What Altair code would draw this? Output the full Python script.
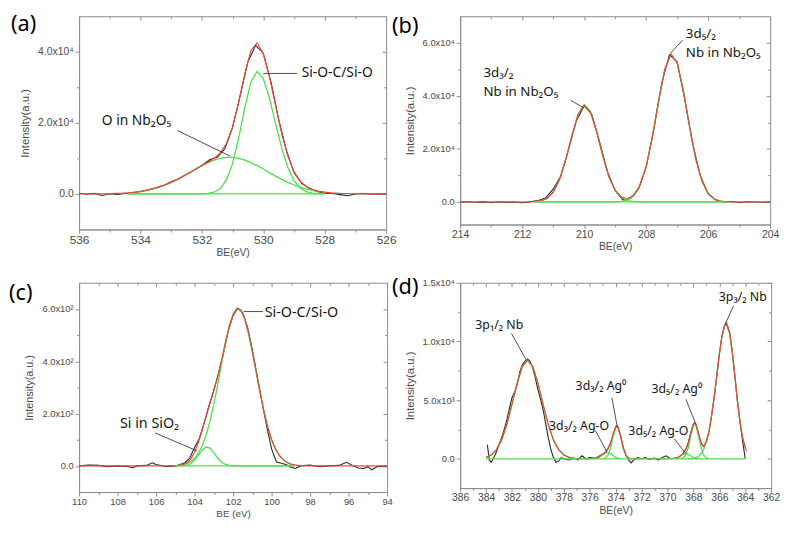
import altair as alt
import pandas as pd

# ---------------- Panel (a): O 1s ----------------
A_DATA_E = [536.0, 535.75, 535.5, 535.25, 535.0, 534.75, 534.5, 534.25, 534.0, 533.75, 533.5, 533.25, 533.0,
            532.75, 532.5, 532.25, 532.0, 531.75, 531.5, 531.25, 531.0, 530.75, 530.5, 530.25, 530.0, 529.75,
            529.5, 529.25, 529.0, 528.75, 528.5, 528.25, 528.0, 527.75, 527.5, 527.25, 527.0, 526.75, 526.5,
            526.25, 526.0]
A_DATA_I = [200, -100, 150, -450, 50, -150, 100, 400, 600, 1150, 1700, 2400, 3400, 4300, 5500, 6700, 8000,
            9600, 10300, 12700, 18700, 27800, 37200, 41800, 39600, 31500, 21000, 12300, 6000, 3000, 1500, 700,
            200, 100, -200, -500, 0, 100, -100, 50, 0]
A_FIT_E = [536.0, 535.5, 535.0, 534.6, 534.4, 534.2, 534.0, 533.8, 533.6, 533.4, 533.2, 533.0, 532.8, 532.6,
           532.4, 532.2, 532.0, 531.8, 531.6, 531.4, 531.2, 531.0, 530.8, 530.6, 530.4, 530.2, 530.0, 529.8,
           529.6, 529.4, 529.2, 529.0, 528.8, 528.6, 528.4, 528.2, 528.0, 527.8, 527.5, 527.0, 526.5, 526.0]
A_FIT_I = [5, 20, 80, 205, 315, 475, 700, 1000, 1395, 1895, 2515, 3245, 4090, 5015, 6000, 7005, 7980, 8945,
           10000, 11530, 14200, 18860, 25810, 33890, 40435, 42450, 39430, 32970, 24845, 16970, 10645, 6275,
           3585, 2065, 1235, 775, 495, 315, 160, 47, 10, 0]
A_COMP_E = [534.4, 534.2, 534.0, 533.8, 533.6, 533.4, 533.2, 533.0, 532.8, 532.6, 532.4, 532.2, 532.0, 531.8,
            531.6, 531.4, 531.2, 531.0, 530.8, 530.6, 530.4, 530.2, 530.0, 529.8, 529.6, 529.4, 529.2, 529.0,
            528.8, 528.6, 528.4, 528.2, 528.0]
A_SIOC_I = [0, 0, 0, 0, 0, 0, 0, 0, 0, 0, 1, 6, 30, 140, 490, 1520, 3930, 8590, 15800, 24380, 31630, 34500,
            32430, 26970, 19830, 12880, 7400, 3760, 1690, 670, 235, 75, 20]
A_ONB_I = [315, 475, 700, 1000, 1395, 1895, 2515, 3245, 4090, 5015, 6000, 7000, 7950, 8805, 9510, 10010, 10270,
           10270, 10010, 9510, 8805, 7950, 7000, 6000, 5015, 4090, 3245, 2515, 1895, 1395, 1000, 700, 475]
A_BG_E = [534.4, 528.0]
A_BG_I = [0, 0]
A_NOTE_T = ["Si-O-C/Si-O", "O in Nb₂O₅"]
A_NOTE_E = [528.75, 535.26]
A_NOTE_I = [33900, 20500]
A_LEAD_E1 = [530.0, 532.8]
A_LEAD_I1 = [33900, 17850]
A_LEAD_E2 = [528.9, 531.08]
A_LEAD_I2 = [33900, 10630]

# ---------------- Panel (b): Nb 3d ----------------
B_DATA_E = [214.0, 213.75, 213.5, 213.25, 213.0, 212.75, 212.5, 212.25, 212.0, 211.75, 211.5, 211.25, 211.0,
            210.75, 210.5, 210.25, 210.0, 209.75, 209.5, 209.25, 209.0, 208.75, 208.5, 208.25, 208.0, 207.75,
            207.5, 207.25, 207.0, 206.75, 206.5, 206.25, 206.0, 205.75, 205.5, 205.25, 205.0, 204.75, 204.5,
            204.25, 204.0]
B_DATA_I = [0, 100, -100, 50, -200, 100, -150, 0, -300, 100, 500, 1500, 4800, 9800, 20000, 30600, 36300, 33000,
            22500, 11500, 4200, 800, 1300, 4900, 13000, 27500, 44500, 55500, 52800, 38500, 22000, 9800, 3000,
            700, -100, 150, -200, 100, 0, -100, 0]
B_FIT_E = [214.0, 213.0, 212.0, 211.8, 211.6, 211.4, 211.2, 211.0, 210.8, 210.6, 210.4, 210.2, 210.0, 209.8,
           209.6, 209.4, 209.2, 209.0, 208.8, 208.6, 208.4, 208.2, 208.0, 207.8, 207.6, 207.4, 207.2, 207.0,
           206.8, 206.6, 206.4, 206.2, 206.0, 205.8, 205.6, 205.4, 205.2, 205.0, 204.0]
B_FIT_I = [0, 0, 0, 20, 109, 419, 1350, 3645, 8240, 15610, 24750, 32870, 36600, 34070, 26570, 17350, 9510, 4407,
           1890, 1325, 2529, 6153, 13296, 24410, 37950, 49970, 55690, 52540, 41960, 28350, 16240, 7860, 3220,
           1120, 330, 80, 15, 0, 0]
B_COMP_E = [211.6, 211.4, 211.2, 211.0, 210.8, 210.6, 210.4, 210.2, 210.0, 209.8, 209.6, 209.4, 209.2, 209.0,
            208.8, 208.6, 208.4, 208.2, 208.0, 207.8, 207.6, 207.4, 207.2, 207.0, 206.8, 206.6, 206.4, 206.2,
            206.0, 205.8, 205.6, 205.4]
B_D32_I = [109, 419, 1350, 3645, 8240, 15610, 24750, 32870, 36600, 34070, 26570, 17350, 9500, 4355, 1670, 538,
           144, 33, 6, 0, 0, 0, 0, 0, 0, 0, 0, 0, 0, 0, 0, 0]
B_D52_I = [0, 0, 0, 0, 0, 0, 0, 0, 0, 0, 0, 0, 10, 52, 220, 787, 2385, 6120, 13290, 24410, 37950, 49970, 55690,
           52540, 41960, 28350, 16240, 7860, 3220, 1120, 330, 80]
B_BG_E = [211.6, 205.4]
B_BG_I = [0, 0]
B_NOTE_T = ["3d₅/₂", "Nb in Nb₂O₅", "3d₃/₂", "Nb in Nb₂O₅"]
B_NOTE_E = [206.72, 206.72, 213.25, 213.25]
B_NOTE_I = [63300, 56300, 48400, 41600]
B_LEAD_E1 = [207.22, 210.43]
B_LEAD_I1 = [56000, 38270]
B_LEAD_E2 = [206.82, 210.0]
B_LEAD_I2 = [61000, 35400]

# ---------------- Panel (c): Si 2p ----------------
C_DATA_E = [110.0, 109.5, 109.0, 108.5, 108.0, 107.5, 107.2, 107.0, 106.5, 106.2, 106.0, 105.5, 105.0, 104.75,
            104.5, 104.25, 104.0, 103.75, 103.5, 103.25, 103.0, 102.75, 102.5, 102.25, 102.0, 101.75, 101.5,
            101.25, 101.0, 100.75, 100.5, 100.25, 100.0, 99.75, 99.5, 99.25, 99.0, 98.75, 98.5, 98.0, 97.5,
            97.0, 96.5, 96.1, 95.8, 95.5, 95.2, 95.0, 94.8, 94.5, 94.0]
C_DATA_I = [0, 3, 2, -3, 0, -2, -7, 0, 2, 12, 5, -2, 0, 5, 12, 30, 70, 105, 165, 230, 290, 355, 430, 515, 575,
            603, 585, 530, 445, 345, 245, 150, 65, 15, 10, 5, -5, -10, 0, 3, -3, 0, 2, 14, 2, -8, -10, -3, -15,
            -2, 0]
C_FIT_E = [110.0, 108.0, 106.0, 105.4, 105.2, 105.0, 104.8, 104.6, 104.4, 104.2, 104.0, 103.8, 103.6, 103.4,
           103.2, 103.0, 102.8, 102.6, 102.4, 102.2, 102.0, 101.8, 101.6, 101.4, 101.2, 101.0, 100.8, 100.6,
           100.4, 100.2, 100.0, 99.8, 99.6, 99.4, 99.2, 99.0, 98.8, 98.5, 98.0, 96.0, 94.0]
C_FIT_I = [0, 0, 0, 0, 1, 1, 2, 6, 12, 26, 52, 90, 138, 190, 239, 287, 341, 404, 472, 534, 579, 602, 596, 563,
           508, 436, 358, 280, 209, 149, 101, 65, 40, 24, 13, 7, 4, 1, 0, 0, 0]
C_COMP_E = [105.0, 104.8, 104.6, 104.4, 104.2, 104.0, 103.8, 103.6, 103.4, 103.2, 103.0, 102.8, 102.6, 102.4,
            102.2, 102.0, 101.8, 101.6, 101.4, 101.2, 101.0, 100.8, 100.6, 100.4, 100.2, 100.0, 99.8, 99.6,
            99.4, 99.2, 99.0, 98.8]
C_MAIN_I = [1, 2, 5, 9, 17, 30, 49, 78, 118, 171, 236, 310, 389, 466, 532, 579, 602, 596, 563, 508, 436, 358,
            280, 209, 149, 101, 65, 40, 24, 13, 7, 4]
C_SIO2_I = [0, 0, 1, 3, 9, 22, 40, 60, 72, 68, 51, 30, 15, 6, 2, 0, 0, 0, 0, 0, 0, 0, 0, 0, 0, 0, 0, 0, 0, 0,
            0, 0]
C_BG_E = [105.0, 98.8]
C_BG_I = [0, 0]
C_NOTE_T = ["Si-O-C/Si-O", "Si in SiO₂"]
C_NOTE_E = [100.36, 107.88]
C_NOTE_I = [585, 160]
C_LEAD_E1 = [101.45, 106.05]
C_LEAD_I1 = [590, 126]
C_LEAD_E2 = [100.45, 103.86]
C_LEAD_I2 = [590, 57]

# ---------------- Panel (d): Nb 3p / Ag 3d ----------------
D_DATA_E = [383.9, 383.75, 383.6, 383.4, 383.2, 383.0, 382.8, 382.6, 382.4, 382.2, 382.0, 381.8, 381.6, 381.4,
            381.2, 381.0, 380.8, 380.6, 380.4, 380.2, 380.0, 379.8, 379.6, 379.4, 379.2, 379.0, 378.8, 378.6,
            378.4, 378.2, 378.0, 377.6, 377.2, 376.9, 376.6, 376.3, 376.0, 375.6, 375.3, 375.0, 374.8, 374.6,
            374.4, 374.2, 374.0, 373.9, 373.8, 373.6, 373.4, 373.2, 373.0, 372.8, 372.6, 372.3, 372.0, 371.7,
            371.4, 371.0, 370.7, 370.4, 370.1, 369.8, 369.5, 369.2, 369.0, 368.8, 368.6, 368.4, 368.2, 368.0,
            367.9, 367.8, 367.6, 367.4, 367.2, 367.0, 366.8, 366.6, 366.4, 366.2, 366.0, 365.8, 365.6, 365.45,
            365.2, 365.0, 364.8, 364.6, 364.4, 364.2, 364.0]
D_DATA_I = [1200, -100, -300, 100, 600, 1200, 1800, 2500, 3300, 4300, 5200, 5700, 6300, 7400, 8000, 8300, 8500,
            8300, 7700, 6900, 5900, 5100, 4200, 3000, 1800, 800, 100, -300, -200, 100, 0, -100, 50, -100, 250, 0,
            100, 50, 200, 400, 550, 850, 1300, 2000, 2700, 2800, 2650, 1900, 900, 300, -100, -350, -100, 100, 0,
            100, -50, 50, -100, 100, 250, 0, 50, 100, 250, 450, 750, 1350, 2200, 2950, 3050, 2900, 2100, 1300,
            1050, 1450, 2300, 3600, 5200, 7000, 8900, 10400, 11300, 11500, 10700, 9100, 7100, 4900, 3100, 1500, 0]
D_FIT_E = [384.0, 383.6, 383.2, 382.8, 382.4, 382.0, 381.6, 381.2, 380.8, 380.4, 380.0, 379.6, 379.2, 378.8,
           378.4, 378.0, 377.6, 377.2, 376.8, 376.0, 375.6, 375.4, 375.2, 375.0, 374.8, 374.6, 374.4, 374.2,
           374.0, 373.9, 373.8, 373.6, 373.4, 373.2, 373.0, 372.8, 372.4, 369.8, 369.4, 369.2, 369.0, 368.8,
           368.6, 368.4, 368.2, 368.0, 367.9, 367.8, 367.6, 367.4, 367.2, 367.0, 366.8, 366.6, 366.4, 366.2,
           366.0, 365.8, 365.6, 365.45, 365.2, 365.0, 364.8, 364.6, 364.4, 364.2, 364.0, 363.9]
D_FIT_I = [122, 329, 778, 1609, 2915, 4633, 6448, 7862, 8400, 7862, 6448, 4633, 2915, 1609, 778, 329, 122, 40,
           11, 1, 24, 78, 194, 371, 576, 835, 1315, 2092, 2754, 2828, 2672, 1831, 875, 290, 67, 11, 0, 1, 33,
           104, 246, 454, 763, 1322, 2199, 2956, 3067, 2936, 2150, 1330, 1074, 1443, 2308, 3580, 5201, 7036,
           8865, 10403, 11370, 11600, 10773, 9130, 7036, 4933, 3146, 1826, 960, 675]
D_P12_E = [384.0, 383.6, 383.2, 382.8, 382.4, 382.0, 381.6, 381.2, 380.8, 380.4, 380.0, 379.6, 379.2, 378.8,
           378.4, 378.0, 377.6, 377.2, 376.8]
D_P12_I = [122, 329, 778, 1609, 2915, 4633, 6448, 7862, 8400, 7862, 6448, 4633, 2915, 1609, 778, 329, 122, 40, 11]
D_AGO32_E = [375.6, 375.4, 375.2, 375.0, 374.8, 374.6, 374.4, 374.2, 374.0, 373.8, 373.6]
D_AGO32_I = [24, 78, 193, 360, 509, 545, 443, 273, 127, 45, 12]
D_AG32_E = [375.0, 374.8, 374.6, 374.4, 374.2, 374.0, 373.9, 373.8, 373.6, 373.4, 373.2, 373.0, 372.8]
D_AG32_I = [11, 67, 290, 872, 1819, 2627, 2750, 2627, 1819, 872, 290, 67, 11]
D_AGO52_E = [369.4, 369.2, 369.0, 368.8, 368.6, 368.4, 368.2, 368.0, 367.8, 367.6]
D_AGO52_I = [33, 103, 234, 382, 450, 382, 234, 103, 33, 8]
D_AG52_E = [369.0, 368.8, 368.6, 368.4, 368.2, 368.0, 367.9, 367.8, 367.6, 367.4, 367.2, 367.0, 366.8]
D_AG52_I = [12, 72, 311, 935, 1951, 2817, 2950, 2817, 1951, 935, 311, 72, 12]
D_P32_E = [368.4, 368.0, 367.6, 367.2, 366.8, 366.4, 366.0, 365.8, 365.6, 365.45, 365.2, 365.0, 364.8, 364.6,
           364.4, 364.2, 364.0]
D_P32_I = [5, 36, 191, 763, 2296, 5201, 8865, 10403, 11370, 11600, 10773, 9130, 7036, 4933, 3146, 1826, 960]
D_BG_E = [384.0, 364.0]
D_BG_I = [0, 0]
D_NOTE_T = ["3p₁/₂ Nb", "3p₃/₂ Nb", "3d₃/₂ Ag⁰", "3d₃/₂ Ag-O", "3d₅/₂ Ag⁰", "3d₅/₂ Ag-O"]
D_NOTE_E = [384.83, 366.04, 377.09, 379.14, 371.24, 373.02]
D_NOTE_I = [11370, 13750, 6190, 2830, 5900, 2350]
D_LEAD_E1 = [382.04, 364.9, 374.29, 375.56, 368.58, 369.47]
D_LEAD_I1 = [10670, 13050, 5210, 2400, 5070, 1700]
D_LEAD_E2 = [380.9, 365.53, 373.86, 374.67, 367.81, 368.58]
D_LEAD_I2 = [8430, 11500, 2630, 590, 2970, 450]

# ---------------- styling ----------------
FRAME = "#8c8c8c"
TXT = "#4a4a4a"
RED = "#f0443f"
GREEN = "#4ce04c"
BLACK = "#262626"
LFONT = "Liberation Sans"
NFONT = "Noto Sans"


def label_expr(vals, labels):
    parts = [f"datum.value == {v} ? '{t}'" for v, t in zip(vals, labels)]
    return " : ".join(parts) + " : ''"


def panel(letter, letter_xy, xdom, ydom, w, h, xmaj, xmin, ymaj, ymin, ylab, xtitle,
          data, fit, comps, bg, notes, leads, xfs, yfs, tfs, nfs):
    xs = alt.Scale(domain=xdom, reverse=True, nice=False, zero=False)
    ys = alt.Scale(domain=ydom, nice=False, zero=False)

    df_data = pd.DataFrame({"E": data[0], "I": data[1]})
    df_fit = pd.DataFrame({"E": fit[0], "I": fit[1]})
    rows = []
    for name, (ce, ci) in comps.items():
        rows += [{"E": e, "I": i, "comp": name} for e, i in zip(ce, ci)]
    df_comp = pd.DataFrame(rows)
    df_bg = pd.DataFrame({"E": bg[0], "I": bg[1]})
    df_note = pd.DataFrame({"t": notes[0], "E": notes[1], "I": notes[2]})
    df_lead = pd.DataFrame({"E1": leads[0], "I1": leads[1], "E2": leads[2], "I2": leads[3]})

    common = dict(tickColor=FRAME, grid=False)
    main_x = alt.Axis(orient="bottom", values=xmaj, format="d", title=xtitle, tickSize=4, labelPadding=1,
                      labelFontSize=xfs, titleFontSize=tfs, titlePadding=2, domainColor=FRAME,
                      labelColor=TXT, titleColor=TXT, labelFont=LFONT, titleFont=LFONT,
                      titleFontWeight="normal", labelFlush=False, **common)
    main_y = alt.Axis(orient="left", values=ymaj, labelExpr=label_expr(ymaj, ylab), title="Intensity(a.u.)",
                      tickSize=4, labelPadding=2, labelFontSize=yfs, titleFontSize=tfs + 1, titlePadding=7,
                      domainColor=FRAME, labelColor=TXT, titleColor=TXT, labelFont=LFONT, titleFont=LFONT,
                      titleFontWeight="normal", **common)
    minor_x = alt.Axis(orient="bottom", values=xmin, labels=False, domain=False, tickSize=2.5, title=None,
                       **common)
    minor_y = alt.Axis(orient="left", values=ymin, labels=False, domain=False, tickSize=2.5, title=None,
                       **common)
    top_x = alt.Axis(orient="top", values=xmaj, labels=False, domain=False, tickSize=4, offset=-4, title=None,
                     **common)
    right_y = alt.Axis(orient="right", values=ymaj, labels=False, domain=False, tickSize=4, offset=-4,
                       title=None, **common)
    top_xm = alt.Axis(orient="top", values=xmin, labels=False, domain=False, tickSize=2.5, offset=-2.5,
                      title=None, **common)
    right_ym = alt.Axis(orient="right", values=ymin, labels=False, domain=False, tickSize=2.5, offset=-2.5,
                        title=None, **common)

    def xy(ax, ay):
        return dict(x=alt.X("E:Q", scale=xs, axis=ax), y=alt.Y("I:Q", scale=ys, axis=ay))

    l_data = alt.Chart(df_data).mark_line(color=BLACK, strokeWidth=1.1, clip=True).encode(**xy(main_x, main_y))
    l_comp = alt.Chart(df_comp).mark_line(color=GREEN, strokeWidth=1.3, clip=True).encode(
        detail="comp:N", **xy(None, None))
    l_fit = alt.Chart(df_fit).mark_line(color=RED, strokeWidth=1.2, clip=True).encode(**xy(None, None))
    l_bg = alt.Chart(df_bg).mark_line(color=GREEN, strokeWidth=1.3, clip=True).encode(**xy(None, None))
    l_lead = alt.Chart(df_lead).mark_rule(color="#3a3a3a", strokeWidth=0.9).encode(
        x=alt.X("E1:Q", scale=xs, axis=None), y=alt.Y("I1:Q", scale=ys, axis=None), x2="E2:Q", y2="I2:Q")
    l_note = alt.Chart(df_note).mark_text(align="left", baseline="middle", font=NFONT, fontSize=nfs,
                                          color="#151515").encode(
        x=alt.X("E:Q", scale=xs, axis=None), y=alt.Y("I:Q", scale=ys, axis=None), text="t:N")
    l_minor = alt.Chart(df_fit).mark_line(strokeOpacity=0).encode(**xy(minor_x, minor_y))
    l_top = alt.Chart(df_fit).mark_line(strokeOpacity=0).encode(**xy(top_x, right_y))
    l_topm = alt.Chart(df_fit).mark_line(strokeOpacity=0).encode(**xy(top_xm, right_ym))
    l_letter = alt.Chart(pd.DataFrame({"t": [letter]})).mark_text(
        align="left", baseline="top", font=NFONT, fontSize=22, color="#000000").encode(
        x=alt.value(letter_xy[0]), y=alt.value(letter_xy[1]), text="t:N")

    return alt.layer(l_data, l_comp, l_fit, l_bg, l_lead, l_note, l_minor, l_top, l_topm, l_letter).resolve_axis(
        x="independent", y="independent").properties(width=w, height=h)


pa = panel("(a)", (-69, -2), [526, 536], [-10000, 50000], 311, 216,
           [536, 534, 532, 530, 528, 526], [535, 533, 531, 529, 527],
           [0, 20000, 40000], [10000, 30000], ["0.0", "2.0x10⁴", "4.0x10⁴"], "BE(eV)",
           (A_DATA_E, A_DATA_I), (A_FIT_E, A_FIT_I),
           {"Si-O-C/Si-O": (A_COMP_E, A_SIOC_I), "O in Nb2O5": (A_COMP_E, A_ONB_I)},
           (A_BG_E, A_BG_I), (A_NOTE_T, A_NOTE_E, A_NOTE_I),
           (A_LEAD_E1, A_LEAD_I1, A_LEAD_E2, A_LEAD_I2), 12, 10.5, 10.5, 14)

pb = panel("(b)", (-69, 0), [204, 214], [-8500, 70000], 314, 211,
           [214, 212, 210, 208, 206, 204], [213, 211, 209, 207, 205],
           [0, 20000, 40000, 60000], [10000, 30000, 50000],
           ["0.0", "2.0x10⁴", "4.0x10⁴", "6.0x10⁴"], "BE(eV)",
           (B_DATA_E, B_DATA_I), (B_FIT_E, B_FIT_I),
           {"3d3/2": (B_COMP_E, B_D32_I), "3d5/2": (B_COMP_E, B_D52_I)},
           (B_BG_E, B_BG_I), (B_NOTE_T, B_NOTE_E, B_NOTE_I),
           (B_LEAD_E1, B_LEAD_I1, B_LEAD_E2, B_LEAD_I2), 10.5, 9.5, 10.5, 13.5)

pc = panel("(c)", (-71, 0), [94, 110], [-100, 700], 312, 212,
           [110, 108, 106, 104, 102, 100, 98, 96, 94], [109, 107, 105, 103, 101, 99, 97, 95],
           [0, 200, 400, 600], [100, 300, 500],
           ["0.0", "2.0x10²", "4.0x10²", "6.0x10²"], "BE (eV)",
           (C_DATA_E, C_DATA_I), (C_FIT_E, C_FIT_I),
           {"Si-O-C/Si-O": (C_COMP_E, C_MAIN_I), "Si in SiO2": (C_COMP_E, C_SIO2_I)},
           (C_BG_E, C_BG_I), (C_NOTE_T, C_NOTE_E, C_NOTE_I),
           (C_LEAD_E1, C_LEAD_I1, C_LEAD_E2, C_LEAD_I2), 9.5, 9.5, 10, 14.5)

pdd = panel("(d)", (-69, -6), [362, 386], [-2500, 15000], 315, 208,
            list(range(386, 361, -2)), list(range(385, 362, -2)),
            [0, 5000, 10000, 15000], [2500, 7500, 12500],
            ["0.0", "5.0x10³", "1.0x10⁴", "1.5x10⁴"], "BE(eV)",
            (D_DATA_E, D_DATA_I), (D_FIT_E, D_FIT_I),
            {"3p1/2": (D_P12_E, D_P12_I), "AgO32": (D_AGO32_E, D_AGO32_I), "Ag32": (D_AG32_E, D_AG32_I),
             "AgO52": (D_AGO52_E, D_AGO52_I), "Ag52": (D_AG52_E, D_AG52_I), "3p3/2": (D_P32_E, D_P32_I)},
            (D_BG_E, D_BG_I), (D_NOTE_T, D_NOTE_E, D_NOTE_I),
            (D_LEAD_E1, D_LEAD_I1, D_LEAD_E2, D_LEAD_I2), 10.5, 9.5, 10.5, 12.5)

chart = alt.concat(pa, pb, pc, pdd, columns=2, spacing={"row": 54, "column": 74}, bounds="flush").properties(
    padding={"left": 0, "top": 1, "right": 0, "bottom": 0}, background="white"
).configure_view(stroke=FRAME, strokeWidth=1)

chart.save("out.html", embed_options={"renderer": "svg", "actions": False})
